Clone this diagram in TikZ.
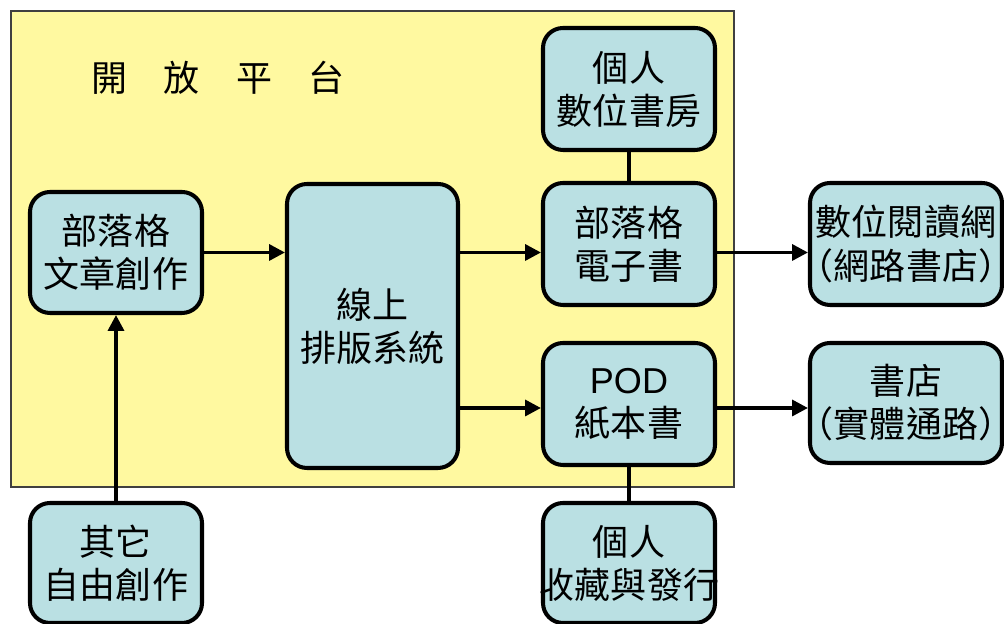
\documentclass[tikz,border=0pt]{standalone}
\usepackage{fontspec}
\setmainfont{Noto Sans CJK TC}
\newfontfamily\latin{Liberation Sans}
\usetikzlibrary{arrows.meta,calc}
\definecolor{platform}{RGB}{255,249,160}
\definecolor{boxfill}{RGB}{186,224,227}
\newcommand{\wideline}[1]{\makebox[0pt]{#1}}

\begin{document}
\begin{tikzpicture}[
	my box/.style = {draw, line width=2.3pt, fill=boxfill,
                   rounded corners=0.4cm, align=center,
                   inner sep=0pt, minimum width=3.44cm,
                   font=\fontsize{20.5pt}{24.5pt}\selectfont},
	my arrow/.style = {line width=2pt,
                   -{Triangle[length=9pt,width=9pt]}},
	my link/.style = {line width=2pt}
                   ]
\useasboundingbox (0,0) rectangle (20.08,12.48);

\draw[fill=platform, draw=black!75, line width=0.6pt] (0.22,2.74) rectangle (14.68,12.26);
\node[font=\fontsize{20.5pt}{24.5pt}\selectfont] (title) at (4.36,10.92) {開　放　平　台};

\node[my box, minimum height=2.42cm] (blog) at (2.32,7.43) {部落格\\文章創作};
\node[my box, minimum height=5.68cm, minimum width=3.42cm] (typeset) at (7.45,5.96) {線上\\排版系統};
\node[my box, minimum height=2.44cm] (ebook) at (12.58,7.60) {部落格\\電子書};
\node[my box, minimum height=2.44cm] (study) at (12.58,10.70) {個人\\數位書房};
\node[my box, minimum height=2.44cm] (pod) at (12.58,4.40) {{\latin POD}\\紙本書};
\node[my box, minimum height=2.44cm, minimum width=3.84cm] (online) at (18.12,7.60) {\wideline{數位閱讀網}\\\wideline{（網路書店）}};
\node[my box, minimum height=2.40cm, minimum width=3.84cm] (store) at (18.12,4.42) {\wideline{書店}\\\wideline{（實體通路）}};
\node[my box, minimum height=2.40cm] (other) at (2.32,1.22) {其它\\自由創作};
\node[my box, minimum height=2.40cm] (collect) at (12.58,1.22) {\wideline{個人}\\\wideline{收藏與發行}};

\draw[my arrow] (blog.east) -- (typeset.west |- blog.east);
\draw[my arrow] (typeset.east |- blog.east) -- (ebook.west |- blog.east);
\draw[my arrow] (ebook.east |- blog.east) -- (online.west |- blog.east);
\draw[my arrow] (typeset.east |- 0,4.32) -- (pod.west |- 0,4.32);
\draw[my arrow] (pod.east |- 0,4.32) -- (store.west |- 0,4.32);
\draw[my arrow] (other.north) -- (blog.south);
\draw[my link] (study.south) -- (ebook.north);
\draw[my link] (pod.south) -- (collect.north);
\end{tikzpicture}
\end{document}
